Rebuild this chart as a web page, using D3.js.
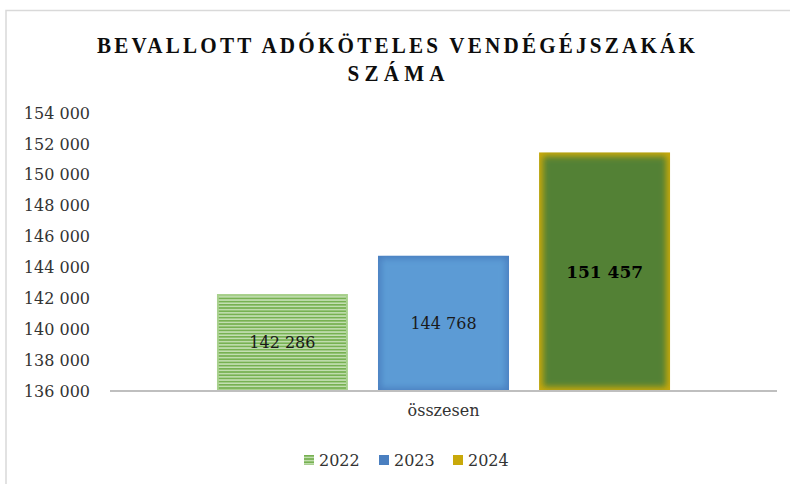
<!DOCTYPE HTML>
<html lang="hu">
<head>
  <meta charset="utf-8">
  <title>Vendégéjszakák</title>
  <script src="https://cdn.jsdelivr.net/npm/d3@7/dist/d3.min.js"></script>
  <style>
    body { margin: 0; background: #fff; }
    text { font-family: "DejaVu Serif", serif; }
  </style>
</head>
<body>
<div id="stage"></div>
<script>
  // data
  var categories = ["összesen"];
  var years = ["2022", "2023", "2024"];
  var values = [142286, 144768, 151457];
  var yTicks = [136000, 138000, 140000, 142000, 144000, 146000, 148000, 150000, 152000, 154000];
  var titleLines = ["BEVALLOTT ADÓKÖTELES VENDÉGÉJSZAKÁK", "SZÁMA"];

  var W = 790, H = 484;
  var svg = d3.select("#stage").append("svg").attr("width", W).attr("height", H);
  var defs = svg.append("defs");

  // chart frame (only top + left visible)
  svg.append("path").attr("d", "M6,484V10.5H790").attr("fill", "none")
    .attr("stroke", "#d9d9d9").attr("stroke-width", 1.5);

  // title - condensed look: squeeze horizontally, spread with textLength
  var titleW = [598, 97], sx = 0.88;
  svg.selectAll(".title").data(titleLines).enter().append("text")
    .attr("transform", function (d, i) { return "translate(396," + (53 + i * 28) + ") scale(" + sx + ",1)"; })
    .attr("text-anchor", "middle")
    .attr("textLength", function (d, i) { return titleW[i] / sx; })
    .attr("lengthAdjust", "spacing")
    .style("font-family", "'Liberation Serif', serif")
    .style("font-weight", "bold").style("font-size", "24px").attr("fill", "#0d0d0d")
    .text(function (d) { return d; });

  var y = d3.scaleLinear().domain([136000, 154000]).range([391, 113]);
  var x0 = d3.scaleBand().domain(categories).range([110, 777]).paddingOuter(0.19).paddingInner(0);
  var x1 = d3.scaleBand().domain(years).range([0, x0.bandwidth()]).paddingInner(0.186).paddingOuter(0.093);

  var fmt = function (v) { return d3.format(",")(v).replace(/,/g, " "); };

  // y axis labels (no line)
  var yAxis = d3.axisLeft(y).tickValues(yTicks).tickSize(0).tickPadding(0).tickFormat(fmt);
  var ya = svg.append("g").attr("transform", "translate(90,0)").call(yAxis);
  ya.select(".domain").remove();
  ya.selectAll("text").style("font-family", "'DejaVu Serif', serif").style("font-size", "16px").attr("fill", "#333");

  // patterns / filters
  var pat = defs.append("pattern").attr("id", "stripes").attr("patternUnits", "userSpaceOnUse")
    .attr("width", 8).attr("height", 3.2);
  pat.append("rect").attr("width", 8).attr("height", 3.2).attr("fill", "#c5e0b4");
  pat.append("rect").attr("width", 8).attr("height", 1.7).attr("fill", "#77b152");
  defs.append("filter").attr("id", "soft").attr("x", "-20%").attr("y", "-20%").attr("width", "140%").attr("height", "140%")
    .append("feGaussianBlur").attr("stdDeviation", 3);

  var baseCol = ["#a9d18e", "#4a7fc0", "#c9a90a"];
  var innerFill = ["url(#stripes)", "#5b9bd5", "#538135"];

  var gx = x0(categories[0]);
  var bars = svg.append("g").selectAll("g").data(values).enter().append("g");
  bars.each(function (v, i) {
    var g = d3.select(this);
    var bx = gx + x1(years[i]), bw = x1.bandwidth(), by = y(v), bh = y(136000) - y(v);
    var cid = "clip" + i;
    defs.append("clipPath").attr("id", cid).append("rect")
      .attr("x", bx).attr("y", by).attr("width", bw).attr("height", bh);
    var c = g.append("g").attr("clip-path", "url(#" + cid + ")");
    c.append("rect").attr("x", bx).attr("y", by).attr("width", bw).attr("height", bh).attr("fill", baseCol[i]);
    var inset = i === 2 ? 4 : (i === 1 ? 3 : 2);
    c.append("rect").attr("x", bx + inset).attr("y", by + inset)
      .attr("width", bw - 2 * inset).attr("height", bh - 2 * inset)
      .attr("fill", innerFill[i]).attr("filter", i === 0 ? null : "url(#soft)");
    g.append("text").attr("x", bx + bw / 2).attr("y", by + bh / 2 + 6)
      .attr("text-anchor", "middle")
      .style("font-size", i === 2 ? "17px" : "16px")
      .style("font-weight", i === 2 ? "bold" : "normal")
      .attr("fill", i === 2 ? "#000" : "#1a1a1a")
      .text(fmt(v));
  });

  // baseline
  svg.append("line").attr("x1", 110).attr("x2", 777).attr("y1", y(136000)).attr("y2", y(136000))
    .attr("stroke", "#bfbfbf").attr("stroke-width", 2);

  // category axis label
  var xAxis = d3.axisBottom(x0).tickSize(0).tickPadding(0);
  var xa = svg.append("g").attr("transform", "translate(0,405)").call(xAxis);
  xa.select(".domain").remove();
  xa.selectAll("text").style("font-family", "'DejaVu Serif', serif").style("font-size", "16px").attr("fill", "#333");

  // legend
  var legX = [304, 379, 453];
  var legCol = ["url(#stripes)", "#4a7fc0", "#c9a90a"];
  var leg = svg.append("g").selectAll("g").data(years).enter().append("g")
    .attr("transform", function (d, i) { return "translate(" + legX[i] + ",455)"; });
  leg.append("rect").attr("width", 10).attr("height", 10).attr("fill", function (d, i) { return legCol[i]; });
  leg.append("text").attr("x", 15).attr("y", 11).style("font-size", "16px").attr("fill", "#333")
    .text(function (d) { return d; });
</script>
</body>
</html>
